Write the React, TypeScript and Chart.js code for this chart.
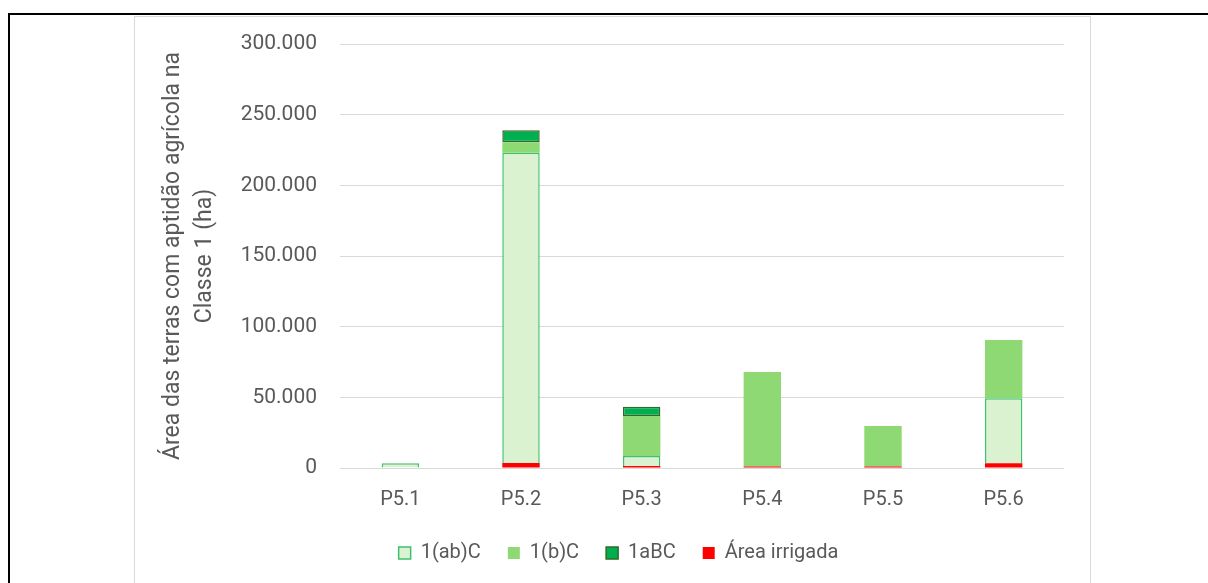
import React, { useEffect, useRef } from "react";
import { Chart, registerables } from "chart.js";

Chart.register(...registerables);

const categories = ["P5.1", "P5.2", "P5.3", "P5.4", "P5.5", "P5.6"];
const areaIrrigada = [0, 3500, 1500, 1000, 1000, 3300];
const classeAbC = [3300, 219500, 7000, 0, 0, 46000];
const classeBC = [0, 7500, 28300, 67000, 28700, 41200];
const classeABC = [0, 8500, 6600, 0, 0, 0];
const yTicks = [0, 50000, 100000, 150000, 200000, 250000, 300000];
const legendOrder = ["1(ab)C", "1(b)C", "1aBC", "Área irrigada"];

const fmt = (v: number) => String(Math.round(v)).replace(/\B(?=(\d{3})+(?!\d))/g, ".");

export default function App() {
  const ref = useRef<HTMLCanvasElement | null>(null);

  useEffect(() => {
    document.body.style.margin = "0";
    document.body.style.overflow = "hidden";
    const canvas = ref.current;
    if (!canvas) return;
    const grey = "#595959";
    const font = { family: "Roboto", size: 20 };
    const chart = new Chart(canvas, {
      type: "bar",
      data: {
        labels: categories,
        datasets: [
          {
            label: "Área irrigada",
            data: areaIrrigada,
            backgroundColor: "#FF0000",
            borderWidth: 0,
          },
          {
            label: "1(ab)C",
            data: classeAbC,
            backgroundColor: "#DAF2D0",
            borderColor: "#3CC26E",
            borderWidth: 1.5,
          },
          {
            label: "1(b)C",
            data: classeBC,
            backgroundColor: "#8ED973",
            borderWidth: 0,
          },
          {
            label: "1aBC",
            data: classeABC,
            backgroundColor: "#00B050",
            borderColor: "#2E6B26",
            borderWidth: 1.5,
            borderSkipped: false,
          },
        ],
      },
      options: {
        animation: false,
        responsive: false,
        maintainAspectRatio: false,
        datasets: { bar: { categoryPercentage: 1, barPercentage: 0.31 } },
        layout: { padding: { left: 38, right: 26, top: 27, bottom: 10 } },
        plugins: {
          tooltip: { enabled: false },
          legend: {
            position: "bottom",
            labels: {
              color: grey,
              font,
              boxWidth: 12,
              boxHeight: 12,
              padding: 27,
              sort: (a: any, b: any) => legendOrder.indexOf(a.text) - legendOrder.indexOf(b.text),
            },
          },
        },
        scales: {
          x: {
            stacked: true,
            grid: { display: false, drawTicks: false },
            border: { display: false },
            ticks: { color: grey, font, padding: 20 },
            afterFit: (s: any) => {
              s.height = 48;
            },
          },
          y: {
            stacked: true,
            min: 0,
            max: 300000,
            afterBuildTicks: (s: any) => {
              s.ticks = yTicks.map((v) => ({ value: v }));
            },
            grid: {
              color: "#D9D9D9",
              lineWidth: 1,
              drawTicks: true,
              tickLength: 19,
              tickColor: "rgba(0,0,0,0)",
            },
            border: { display: false },
            ticks: {
              color: grey,
              font: { family: "Roboto", size: 21 },
              padding: 4,
              callback: (v: any) => fmt(Number(v)),
            },
            title: {
              display: true,
              text: ["Área das terras com aptidão agrícola na", "Classe 1 (ha)"],
              color: grey,
              font: { family: "Roboto", size: 23, lineHeight: 32 / 23 },
              padding: { top: -16, bottom: 0 },
            },
            afterFit: (s: any) => {
              s.width = 167;
            },
          },
        },
      },
    });
    return () => chart.destroy();
  }, []);

  return (
    <div>
      <div
        style={{
          position: "absolute",
          left: 8,
          top: 13,
          width: 1200,
          height: 570,
          borderTop: "2px solid #000",
          borderLeft: "2px solid #000",
          boxSizing: "border-box",
        }}
      />
      <div
        style={{
          position: "absolute",
          left: 134,
          top: 16,
          width: 957,
          height: 567,
          borderTop: "1px solid #D9D9D9",
          borderLeft: "1px solid #D9D9D9",
          borderRight: "1px solid #D9D9D9",
          boxSizing: "border-box",
          background: "#fff",
        }}
      />
      <canvas
        ref={ref}
        width={955}
        height={566}
        style={{ position: "absolute", left: 135, top: 17, width: 955, height: 566 }}
      />
    </div>
  );
}
